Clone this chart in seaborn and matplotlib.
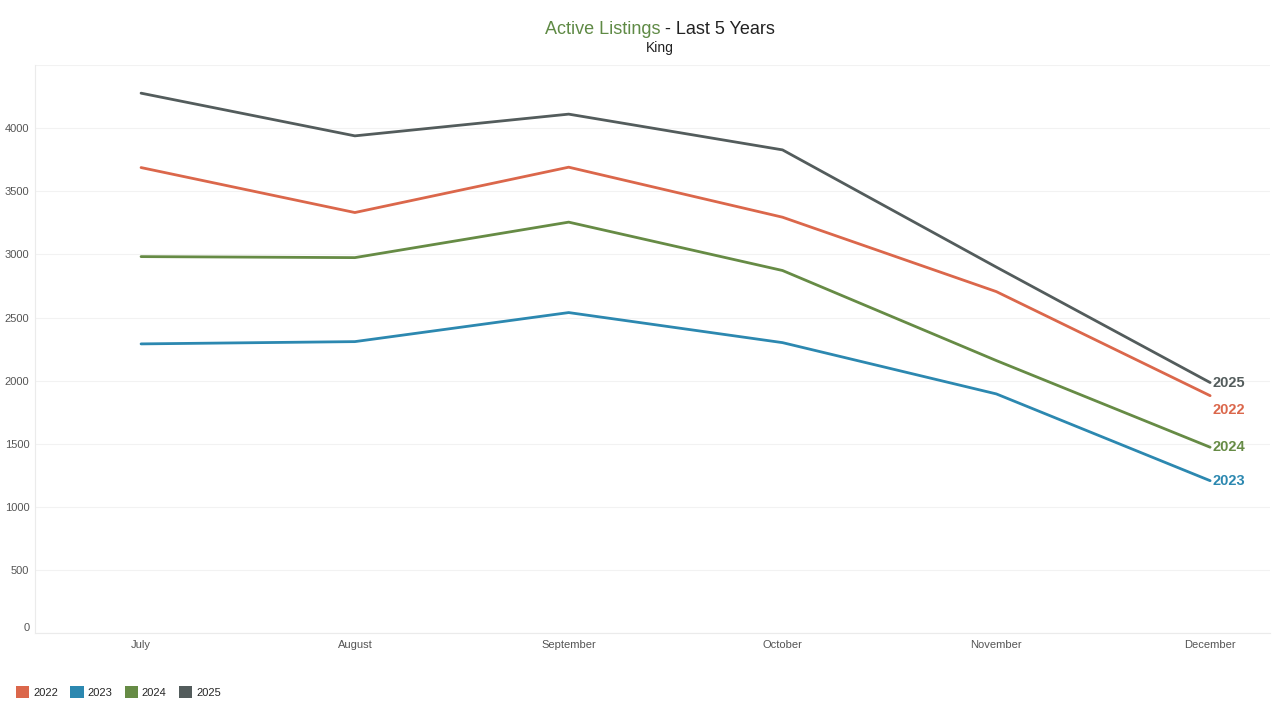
import pandas as pd
import numpy as np
import seaborn as sns
import matplotlib.pyplot as plt
from matplotlib.patches import Patch

months = ['July', 'August', 'September', 'October', 'November', 'December']
years = ['2022', '2023', '2024', '2025']
listings_2022 = [3688, 3332, 3691, 3295, 2706, 1882]
listings_2023 = [2292, 2310, 2540, 2302, 1896, 1209]
listings_2024 = [2983, 2975, 3256, 2873, 2160, 1474]
listings_2025 = [4277, 3939, 4111, 3828, 2900, 1986]

colors = {'2022': '#db674b', '2023': '#2c88b0', '2024': '#668b45', '2025': '#535c5c'}

df = pd.DataFrame({
    'month': months * 4,
    'year': np.repeat(years, len(months)),
    'listings': listings_2022 + listings_2023 + listings_2024 + listings_2025,
})
df['pos'] = df['month'].map({m: i for i, m in enumerate(months)})

sns.set_style('white')
plt.rcParams['font.family'] = ['Liberation Sans', 'DejaVu Sans']

fig = plt.figure(figsize=(12.73, 7.07), dpi=100)
ax = fig.add_axes([35 / 1273, 1 - 633.4 / 707, 1235 / 1273, 568.4 / 707])

sns.lineplot(data=df, x='pos', y='listings', hue='year', palette=colors,
             sort=False, linewidth=2.0, legend=False, ax=ax)

ax.set_xlim(-0.496, 5.28)
ax.set_ylim(0, 4500)
ax.set_yticks(np.arange(0, 4501, 500))
ax.set_yticklabels([str(v) if v < 4500 else '' for v in range(0, 4501, 500)])
ax.set_xticks(range(len(months)))
ax.set_xticklabels(months)
ax.set_xticks(np.arange(0.5, 5.5, 1), minor=True)
ax.grid(axis='y', color='#f2f2f2', linewidth=0.8)
ax.set_axisbelow(True)
ax.set_xlabel('')
ax.set_ylabel('')
for s in ['top', 'right']:
    ax.spines[s].set_visible(False)
for s in ['left', 'bottom']:
    ax.spines[s].set_color('#ebebeb')
    ax.spines[s].set_linewidth(0.8)
ax.tick_params(axis='both', which='major', length=0, labelsize=8, labelcolor='#555555')
ax.tick_params(axis='y', pad=4)
ax.tick_params(axis='x', pad=5)
ax.tick_params(axis='x', which='minor', direction='in', length=3, color='#e6e6e6')
for lbl in ax.get_yticklabels():
    if lbl.get_text() == '0':
        lbl.set_va('bottom')

# end labels
nudge = {'2022': -10, '2023': 0, '2024': 0, '2025': 0}
for yr in years:
    last = df[(df['year'] == yr)]['listings'].iloc[-1]
    ax.annotate(yr, xy=(5, last), xytext=(2, nudge[yr]), textcoords='offset points',
                ha='left', va='center', fontsize=10.5, fontweight='bold', color=colors[yr])

# title
t1 = fig.text(0, 1 - 29 / 707, 'Active Listings', fontsize=13, color='#5f8a45', va='center')
t2 = fig.text(0, 1 - 29 / 707, ' - Last 5 Years', fontsize=13, color='#222222', va='center')
fig.canvas.draw()
r = fig.canvas.get_renderer()
w1 = t1.get_window_extent(r).width
w2 = t2.get_window_extent(r).width
x0 = 660 - (w1 + w2) / 2
t1.set_x(x0 / 1273)
t2.set_x((x0 + w1) / 1273)
fig.text(660 / 1273, 1 - 48 / 707, 'King', fontsize=10, color='#222222', ha='center', va='center')

handles = [Patch(facecolor=colors[y], edgecolor='none', label=y) for y in years]
fig.legend(handles=handles, loc='center left', bbox_to_anchor=(6 / 1273, 1 - 692 / 707),
           ncol=4, frameon=False, fontsize=8, handlelength=1.2, handleheight=1.2,
           handletextpad=0.35, columnspacing=1.1)

fig.savefig('out.png', dpi=100)
